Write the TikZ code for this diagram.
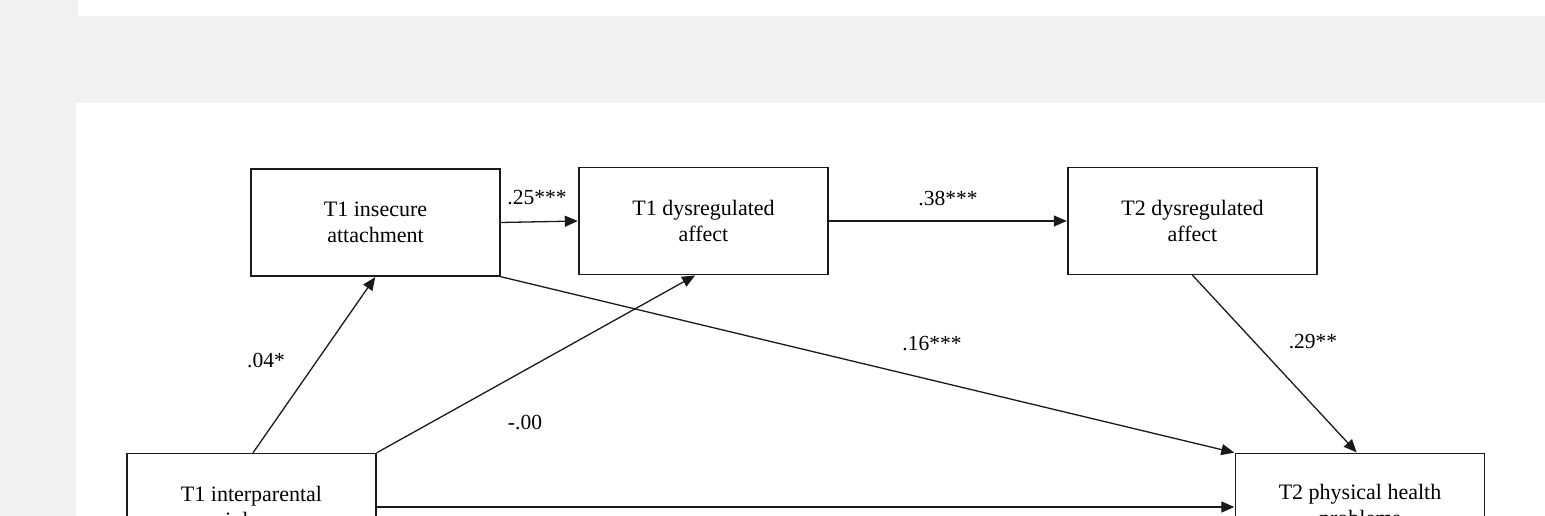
\documentclass[tikz,border=0pt]{standalone}
\usepackage{fontspec}
\setmainfont{Liberation Serif}
\usetikzlibrary{arrows.meta}
\definecolor{bggrey}{HTML}{F2F2F2}
\definecolor{linec}{HTML}{1A1A1A}
\tikzset{
  box/.style={draw=linec, line width=1.4pt, fill=white, minimum width=249pt, minimum height=107pt,
    align=center, inner sep=0pt, font=\fontsize{22}{26}\selectfont},
  arr/.style={draw=linec, line width=1.3pt, -{Triangle[length=13pt,width=11pt]}, shorten >=0.5pt},
  lab/.style={font=\fontsize{21.5}{24}\selectfont, inner sep=0pt}
}
\begin{document}
\begin{tikzpicture}[x=1pt,y=-1pt]
\useasboundingbox (0,0) rectangle (1545,516);
\clip (0,0) rectangle (1545,516);
\fill[bggrey] (0,0) rectangle (1545,516);
\fill[white] (78,0) rectangle (1545,16);
\fill[white] (76,103) rectangle (1545,516);

\node[box] (ins) at (375.5,222.5) {T1 insecure\\attachment};
\node[box] (d1) at (703.5,221) {T1 dysregulated\\affect};
\node[box] (d2) at (1192.5,221) {T2 dysregulated\\affect};
\node[box] (ip) at (251.5,507) {T1 interparental\\violence};
\node[box] (ph) at (1360,507) {T2 physical health\\problems};

\draw[arr] (ins.east) -- (d1.west);
\draw[arr] (d1.east) -- (d2.west);
\draw[arr] (ins.south east) -- (ph.north west);
\draw[arr] (d2.south) -- ([xshift=-3pt]ph.north);
\draw[arr] ([xshift=1.5pt]ip.north) -- (ins.south);
\draw[arr] (ip.north east) -- ([xshift=-8pt]d1.south);
\draw[arr] (ip.east) -- (ph.west);

\node[lab] (l25) at (537,198) {.25***};
\node[lab] (l38) at (948,199) {.38***};
\node[lab] (l16) at (932,344) {.16***};
\node[lab] (l29) at (1313,342) {.29**};
\node[lab] (l04) at (266,361) {.04*};
\node[lab] (l00) at (525,423) {-.00};
\end{tikzpicture}
\end{document}
